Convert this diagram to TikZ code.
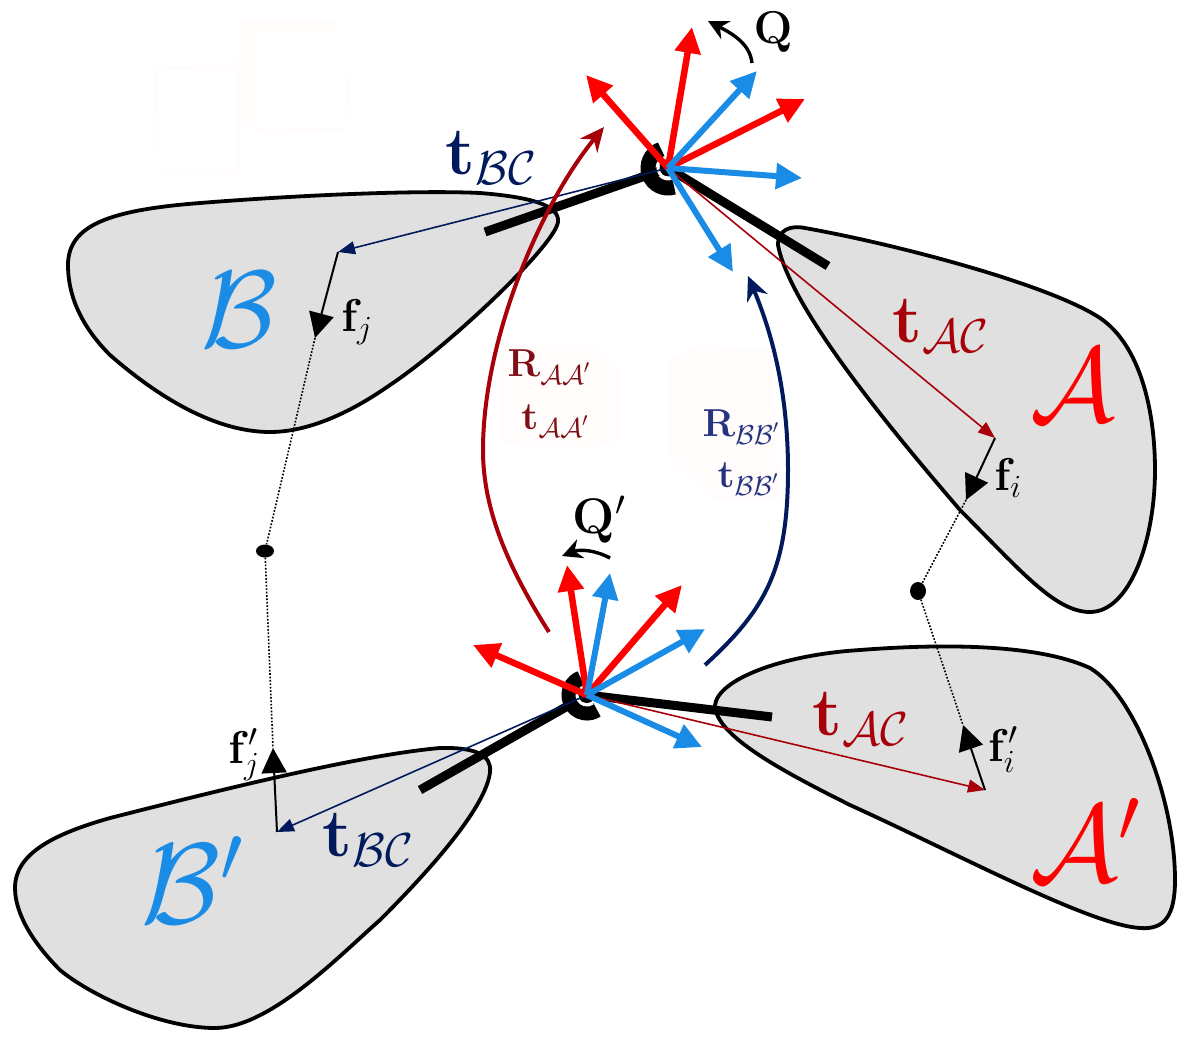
\RequirePackage{fix-cm}
\documentclass[tikz,border=0pt]{standalone}
\usetikzlibrary{arrows.meta,shapes.geometric}
\definecolor{dred}{HTML}{A80008}
\definecolor{dnavy}{HTML}{001A5C}
\definecolor{lnavy}{HTML}{26337F}
\definecolor{lred}{HTML}{7F0F14}
\definecolor{myblue}{HTML}{1A8CE6}
\definecolor{myred}{HTML}{FF0000}
\definecolor{blobg}{HTML}{E0E0E0}
\definecolor{smudge}{HTML}{FFFCFB}
\tikzset{
 blob/.style={draw=black,fill=blobg,line width=3.8pt},
 barline/.style={line width=9pt,black},
 redax/.style={myred,line width=6.5pt,-{Triangle[length=26pt,width=25pt]}},
 blueax/.style={myblue,line width=6pt,-{Triangle[length=26pt,width=25pt]}},
 thinred/.style={dred,line width=1.6pt,-{Triangle[length=17pt,width=13pt]}},
 thinblue/.style={dnavy,line width=1.6pt,-{Triangle[length=17pt,width=13pt]}},
 farrow/.style={black,line width=2pt,-{Triangle[length=25pt,width=25pt]}},
 dotline/.style={black,line width=1.6pt,dash pattern=on 1.7pt off 1.7pt},
 bigred/.style={dred,line width=4pt,-{Stealth[length=24pt,width=22pt]}},
 bigblue/.style={dnavy,line width=4pt,-{Stealth[length=24pt,width=22pt]}},
 rotarrow/.style={black,line width=3.4pt,-{Stealth[length=20pt,width=20pt]}},
 txt/.style={inner sep=0pt,outer sep=0pt},
 hubdot/.style={ellipse,fill=black,inner sep=0pt}
}
\newcommand{\fsz}[1]{\fontsize{#1}{#1}\selectfont}
\begin{document}
\begin{tikzpicture}[x=1pt,y=-1pt]
\useasboundingbox (0,0) rectangle (1192,1042);
% faint smudges
\fill[smudge] (155,68) -- (240,62) -- (240,20) -- (335,20) -- (350,90) -- (345,130) -- (270,135) -- (240,125) -- (240,175) -- (157,175) -- cycle;
\fill[white] (158,70) rectangle (236,172) (256,32) rectangle (345,128);
\fill[smudge] (502,345) -- (590,345) -- (620,370) -- (620,440) -- (590,448) -- (502,445) -- cycle;
\fill[smudge] (670,360) -- (700,345) -- (770,350) -- (780,500) -- (715,500) -- (670,460) -- cycle;
% blobs
\draw[blob] (68,265) .. controls (68,225) and (110,210) .. (200,203)
 .. controls (300,195) and (420,190) .. (480,193)
 .. controls (530,197) and (560,205) .. (558,222)
 .. controls (555,245) and (450,345) .. (390,385)
 .. controls (340,420) and (300,432) .. (270,432)
 .. controls (210,432) and (150,390) .. (110,355)
 .. controls (85,330) and (68,300) .. (68,265) -- cycle;
\draw[blob] (778,245) .. controls (778,230) and (790,225) .. (805,228)
 .. controls (900,245) and (1050,285) .. (1100,318)
 .. controls (1140,345) and (1155,410) .. (1155,470)
 .. controls (1155,540) and (1130,612) .. (1090,612)
 .. controls (1055,612) and (1020,570) .. (960,510)
 .. controls (900,440) and (790,310) .. (778,245) -- cycle;
\draw[blob] (715,705) .. controls (718,680) and (780,655) .. (860,650)
 .. controls (950,643) and (1040,645) .. (1090,668)
 .. controls (1135,695) and (1175,800) .. (1175,880)
 .. controls (1175,915) and (1165,930) .. (1140,928)
 .. controls (1090,925) and (960,855) .. (850,805)
 .. controls (780,770) and (715,735) .. (715,705) -- cycle;
\draw[blob] (15,888) .. controls (15,855) and (50,835) .. (110,818)
 .. controls (220,790) and (360,755) .. (440,748)
 .. controls (475,747) and (492,755) .. (490,772)
 .. controls (487,800) and (450,850) .. (380,920)
 .. controls (340,955) and (270,1028) .. (215,1028)
 .. controls (160,1028) and (90,995) .. (60,970)
 .. controls (35,945) and (15,915) .. (15,888) -- cycle;
% anchor points
\coordinate (hubT) at (668,168);
\coordinate (hubB) at (587,695);
\coordinate (barTL) at (485,232);
\coordinate (barTR) at (828,266);
\coordinate (barBL) at (420,790);
\coordinate (barBR) at (772,717);
\coordinate (fjS) at (338,252);
\coordinate (fjE) at (315,338);
\coordinate (fiS) at (995,438);
\coordinate (fiE) at (966,500);
\coordinate (fipS) at (985,790);
\coordinate (fipE) at (963,725);
\coordinate (fjpS) at (277,832);
\coordinate (fjpE) at (273,748);
\node[hubdot,minimum width=18pt,minimum height=13pt] (dotB) at (265,551) {};
\node[hubdot,minimum width=16pt,minimum height=18pt] (dotA) at (918,591) {};
% bars
\draw[barline] (barTL) -- (hubT);
\draw[barline] (barTR) -- (hubT);
\draw[barline] (barBL) -- (hubB);
\draw[barline] (barBR) -- (hubB);
% hubs
\draw[black,line width=15pt] (hubT) ++(110:20pt) arc[start angle=110,end angle=288,radius=20pt];
\fill[black] (hubT) circle (9pt);
\draw[white,line width=3pt] (hubT) ++(165:10pt) arc[start angle=165,end angle=305,radius=10pt];
\draw[black,line width=15pt] (hubB) ++(110:18pt) arc[start angle=110,end angle=304,radius=18pt];
\fill[black] (hubB) circle (8pt);
\draw[white,line width=3pt] (hubB) ++(165:10pt) arc[start angle=165,end angle=305,radius=10pt];
% dotted links
\draw[dotline] (fjE) -- (dotB) -- (fjpE);
\draw[dotline] (fiE) -- (dotA) -- (fipE);
% translation lines
\draw[thinblue] (hubT) -- (fjS);
\draw[thinred] (hubT) -- (fiS);
\draw[thinblue] (hubB) -- (fjpS);
\draw[thinred] (hubB) -- (fipS);
% features
\draw[farrow] (fjS) -- (fjE);
\draw[farrow] (fiS) -- (fiE);
\draw[farrow] (fipS) -- (fipE);
\draw[farrow] (fjpS) -- (fjpE);
% big curves
\coordinate (crS) at (549,632);
\coordinate (crE) at (604,127);
\coordinate (cbS) at (705,665);
\coordinate (cbE) at (748,276);
\draw[bigred] (crS) .. controls (500,555) and (483,500) .. (483,450) .. controls (483,340) and (540,205) .. (crE);
\draw[bigblue] (cbS) .. controls (765,610) and (788,570) .. (788,470) .. controls (788,400) and (775,340) .. (cbE);
% axes top
\coordinate (t1) at (586,75);
\coordinate (t2) at (692,27);
\coordinate (t3) at (805,99);
\coordinate (t4) at (757,71);
\coordinate (t5) at (802,178);
\coordinate (t6) at (733,272);
\draw[redax] (hubT) -- (t1);
\draw[redax] (hubT) -- (t2);
\draw[redax] (hubT) -- (t3);
\draw[blueax] (hubT) -- (t4);
\draw[blueax] (hubT) -- (t5);
\draw[blueax] (hubT) -- (t6);
% axes bottom
\coordinate (b1) at (473,645);
\coordinate (b2) at (567,565);
\coordinate (b3) at (682,585);
\coordinate (b4) at (610,573);
\coordinate (b5) at (705,629);
\coordinate (b6) at (702,747);
\draw[redax] (hubB) -- (b1);
\draw[redax] (hubB) -- (b2);
\draw[redax] (hubB) -- (b3);
\draw[blueax] (hubB) -- (b4);
\draw[blueax] (hubB) -- (b5);
\draw[blueax] (hubB) -- (b6);
% rotation arrows
\coordinate (qS) at (752,63);
\coordinate (qE) at (708,21);
\coordinate (qpS) at (610,558);
\coordinate (qpE) at (562,556);
\draw[rotarrow] (qS) .. controls (750,45) and (735,35) .. (qE);
\draw[rotarrow] (qpS) .. controls (595,550) and (580,549) .. (qpE);
% labels
\node[txt] (lQ) at (773,32) {\fsz{46}$\mathbf{Q}$};
\node[txt] (lQp) at (599,520) {\fsz{50}$\mathbf{Q}'$};
\node[txt,text=dnavy] (ltbc) at (491,158) {\fsz{68}$\mathbf{t}_{\mathcal{BC}}$};
\node[txt,text=dnavy] (ltbc2) at (368,840) {\fsz{68}$\mathbf{t}_{\mathcal{BC}}$};
\node[txt,text=dred] (ltac) at (941,326) {\fsz{68}$\mathbf{t}_{\mathcal{AC}}$};
\node[txt,text=dred] (ltac2) at (861,719) {\fsz{68}$\mathbf{t}_{\mathcal{AC}}$};
\node[txt,text=myblue] (lB) at (239,310) {\fsz{110}$\mathcal{B}$};
\node[txt,text=myblue] (lBp) at (192,880) {\fsz{115}$\mathcal{B}'$};
\node[txt,text=myred] (lA) at (1073,385) {\fsz{106}$\mathcal{A}$};
\node[txt,text=myred] (lAp) at (1085,840) {\fsz{110}$\mathcal{A}'$};
\node[txt] (lfj) at (357,322) {\fsz{46}$\mathbf{f}_j$};
\node[txt] (lfi) at (1008,478) {\fsz{46}$\mathbf{f}_i$};
\node[txt] (lfjp) at (244,755) {\fsz{46}$\mathbf{f}'_j$};
\node[txt] (lfip) at (1003,750) {\fsz{46}$\mathbf{f}'_i$};
\node[txt,text=lred] (lRa) at (549,367) {\fsz{39}$\mathbf{R}_{\mathcal{AA}'}$};
\node[txt,text=lred] (lta) at (555,421) {\fsz{39}$\mathbf{t}_{\mathcal{AA}'}$};
\node[txt,text=lnavy] (lRb) at (741,427) {\fsz{39}$\mathbf{R}_{\mathcal{BB}'}$};
\node[txt,text=lnavy] (ltb) at (748,479) {\fsz{39}$\mathbf{t}_{\mathcal{BB}'}$};
\end{tikzpicture}
\end{document}
